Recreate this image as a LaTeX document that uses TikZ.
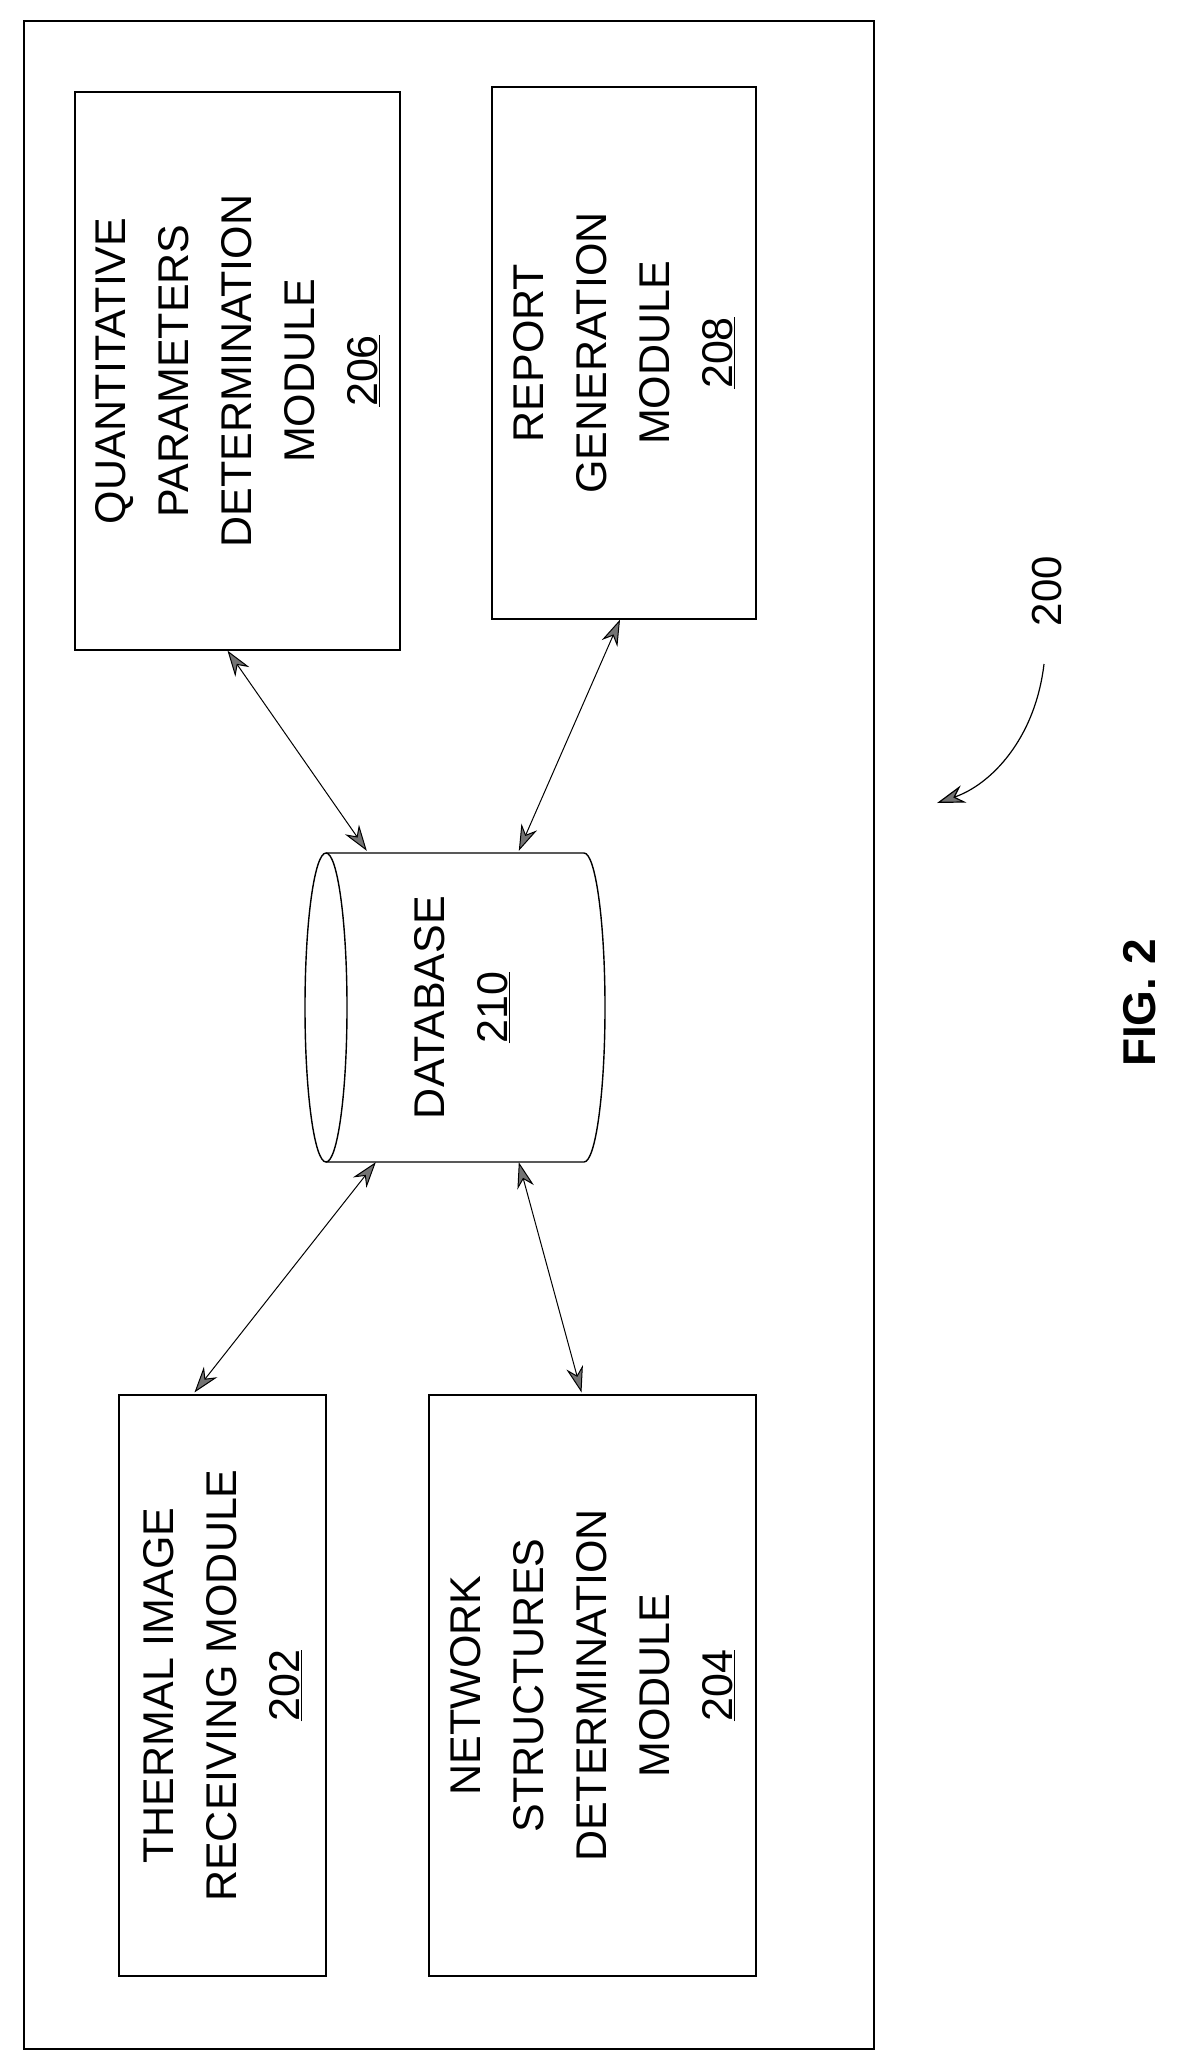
\documentclass[tikz,border=0pt]{standalone}
\usepackage{fontspec}
\setmainfont{Liberation Sans}
\usetikzlibrary{arrows.meta,calc}
\begin{document}
\begin{tikzpicture}[x=1pt,y=-1pt,
  box/.style={draw,line width=1.2pt,rotate=90,align=center,inner sep=0pt,font=\fontsize{43}{63}\selectfont},
  link/.style={line width=1pt,{Stealth[length=26pt,width=17pt,fill=black!55]}-{Stealth[length=26pt,width=17pt,fill=black!55]}}]
\useasboundingbox (0,0) rectangle (1179,2063);
\node[draw,line width=1.2pt,minimum width=850,minimum height=2028,inner sep=0] (frame) at (449,1035) {};
\node[box,minimum width=558,minimum height=325] (m206) at (237.5,371) {QUANTITATIVE\\PARAMETERS\\DETERMINATION\\MODULE\\\underline{206}};
\node[box,minimum width=532,minimum height=264] (m208) at (624,353) {REPORT\\GENERATION\\MODULE\\\underline{208}};
\node[box,minimum width=581,minimum height=207] (m202) at (222.5,1685.5) {THERMAL IMAGE\\RECEIVING MODULE\\\underline{202}};
\node[box,minimum width=581,minimum height=327] (m204) at (592.5,1685.5) {NETWORK\\STRUCTURES\\DETERMINATION\\MODULE\\\underline{204}};
% database cylinder
\node[minimum width=300,minimum height=309,inner sep=0] (db) at (455,1007.5) {};
\draw[line width=1.4pt] (326,1007.5) ellipse [x radius=21,y radius=154.5];
\draw[line width=1.4pt] (326,853) -- (584,853) arc[start angle=-90,end angle=90,x radius=21,y radius=154.5] -- (326,1162);
\node[rotate=90,align=center,font=\fontsize{43}{63}\selectfont] (dbt) at (462,1007.5) {DATABASE\\\underline{210}};
\coordinate (d1) at ($(db.north west)+(62,-2)$);
\coordinate (d2) at ($(db.north west)+(214,-2)$);
\coordinate (d3) at ($(db.south west)+(71,0)$);
\coordinate (d4) at ($(db.south west)+(214,0)$);
\draw[link] ($(m206.west)+(-10,0)$) -- (d1);
\draw[link] ($(m208.west)+(-4,0)$) -- (d2);
\draw[link] ($(m202.east)+(-28,-2)$) -- (d3);
\draw[link] ($(m204.east)+(-11,-2)$) -- (d4);
\node[rotate=90,font=\fontsize{42}{50}\selectfont] (l200) at (1047,591) {200};
\coordinate (c200) at (937,803);
\draw[line width=1.2pt,-{Stealth[length=28pt,width=18pt,fill=black!55]}] (1044,664) .. controls (1035,740) and (990,785) .. (c200);
\node[rotate=90,font=\bfseries\fontsize{46}{54}\selectfont] (fig) at (1140,1003) {FIG. 2};
\end{tikzpicture}
\end{document}
